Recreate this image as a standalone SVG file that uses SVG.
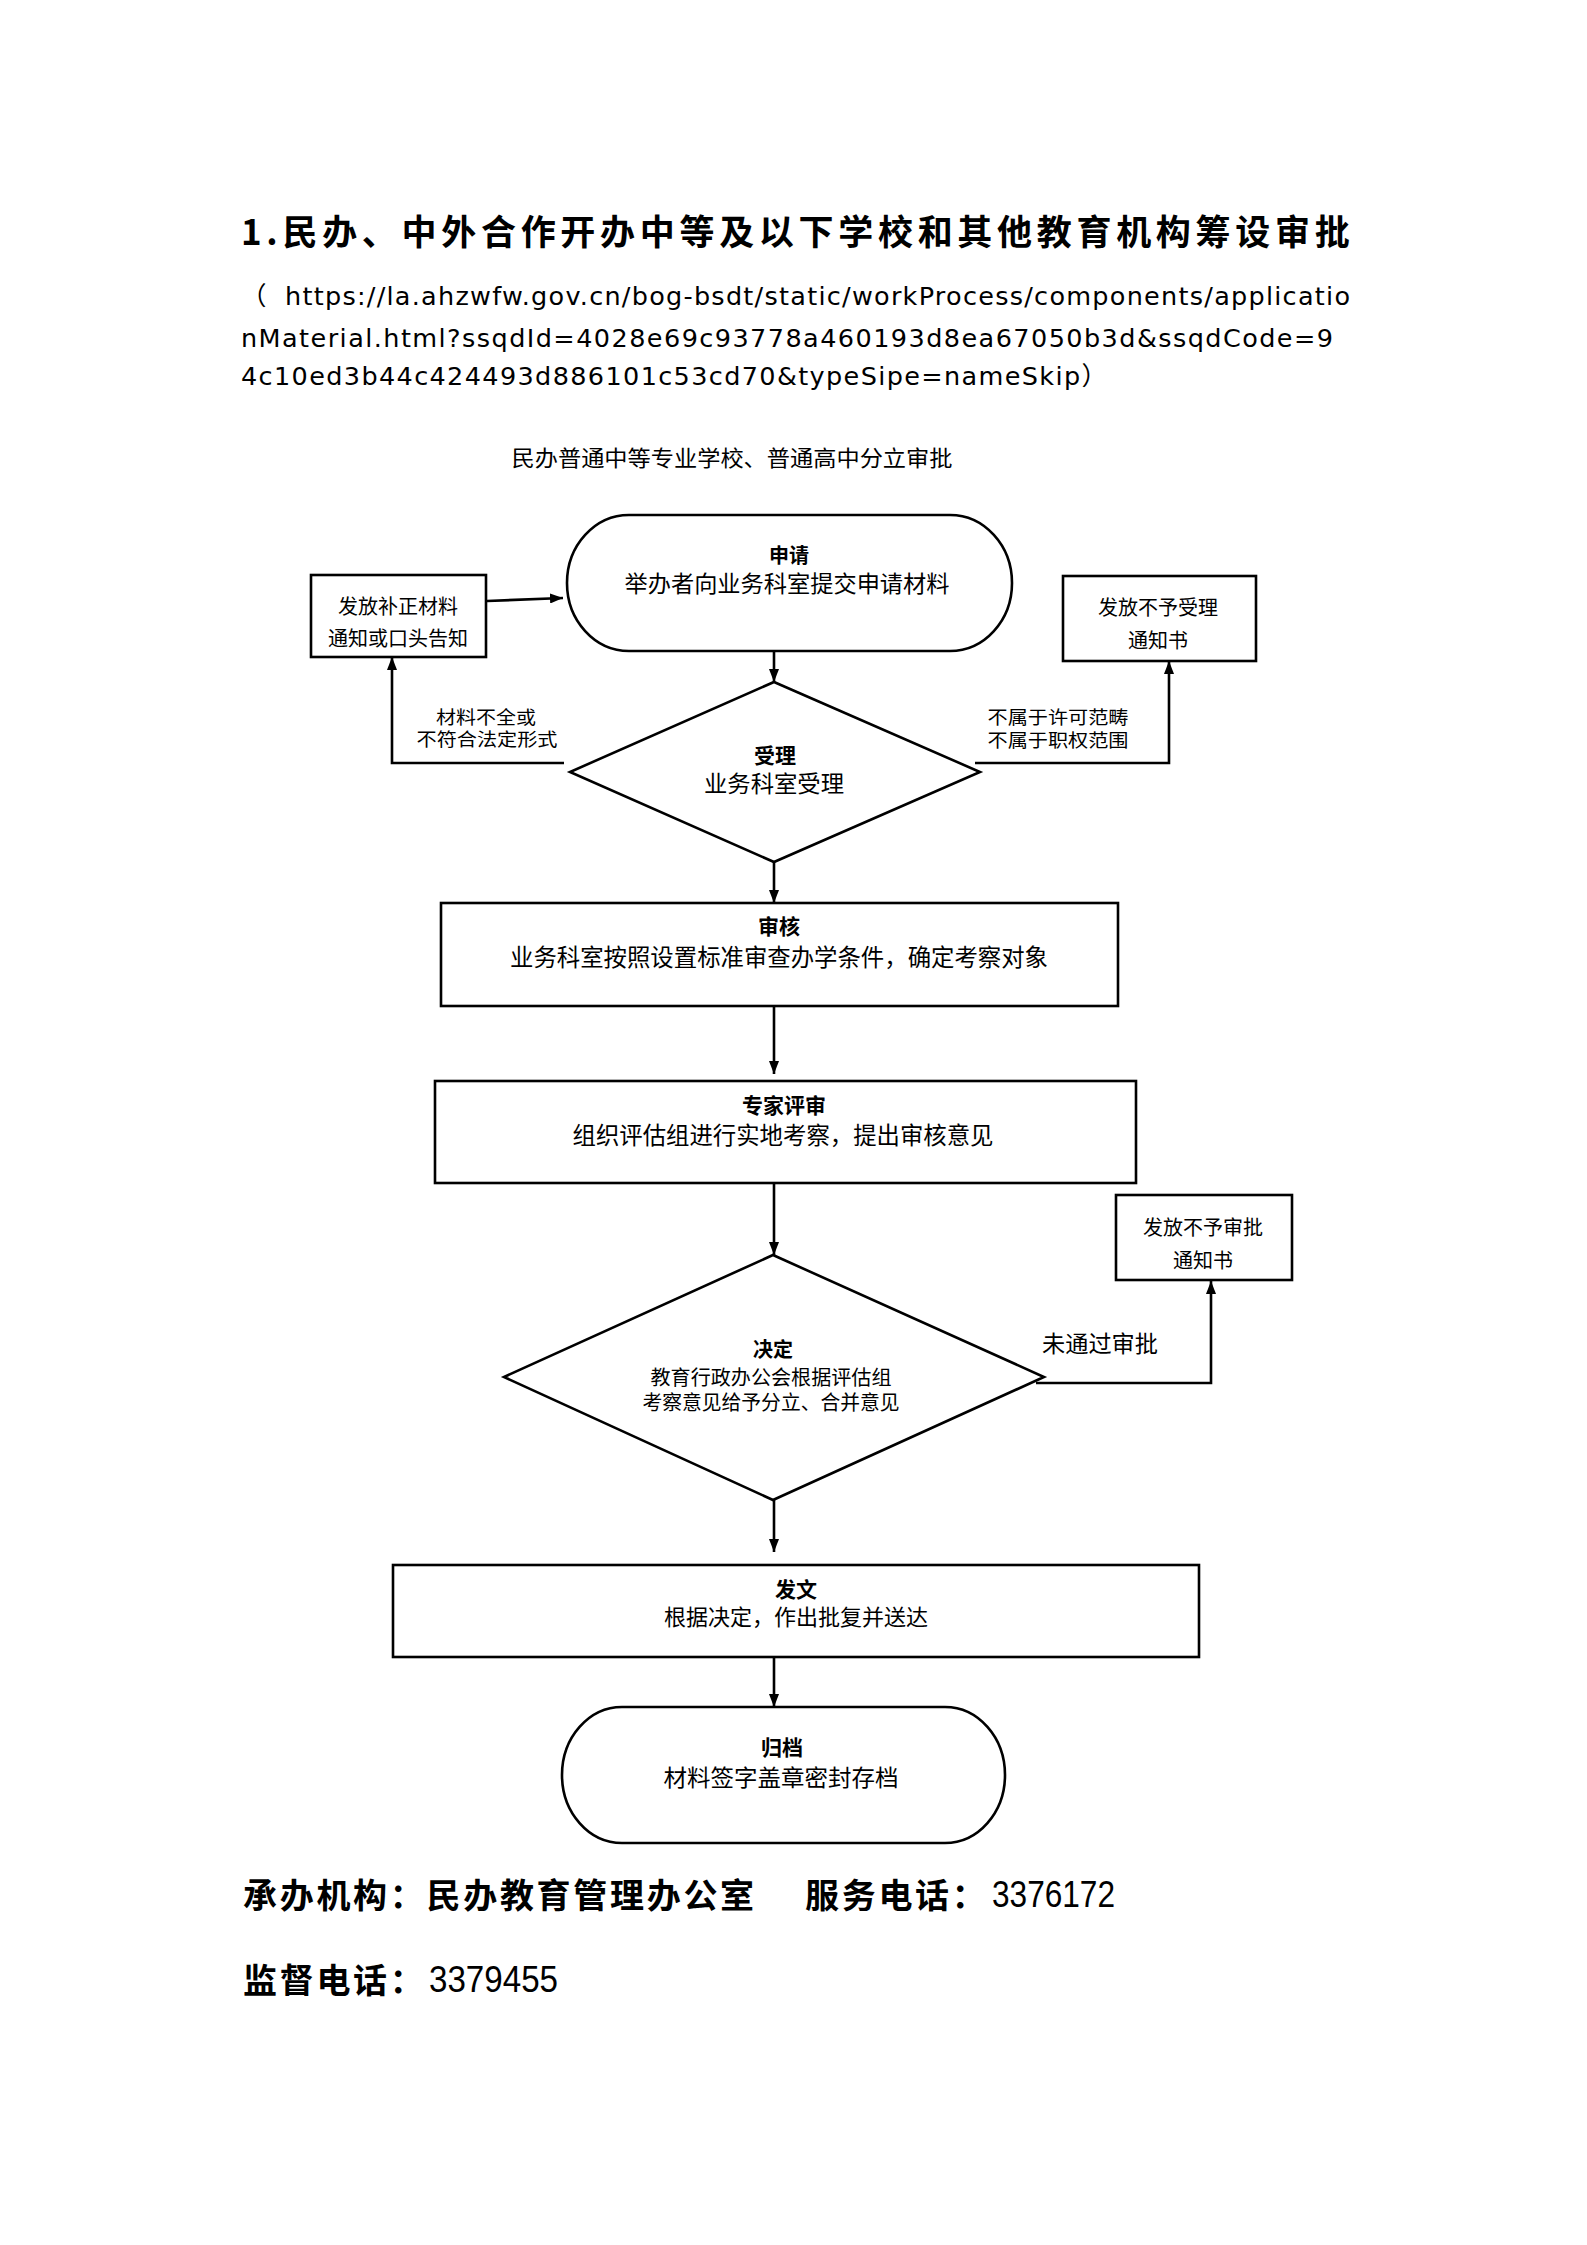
<svg xmlns="http://www.w3.org/2000/svg" width="1587" height="2245" viewBox="0 0 1587 2245">
<style>
.bg{fill:#ffffff}
.shape{fill:#ffffff;stroke:#000;stroke-width:2.6}
.conn{fill:none;stroke:#000;stroke-width:2.6}
.t{font-family:"Noto Sans CJK SC","Noto Sans",sans-serif;fill:#000;text-anchor:middle}
.b{font-weight:bold}
.title{font-family:"Noto Sans CJK SC",sans-serif;font-weight:bold;font-size:35px;letter-spacing:4.7px;fill:#000}
.url{font-family:"DejaVu Sans","Noto Sans CJK SC",sans-serif;font-size:25.5px;fill:#000}
.foot{font-family:"Noto Sans CJK SC",sans-serif;font-weight:bold;font-size:34px;letter-spacing:2.7px;fill:#000}
.num{font-family:"Liberation Sans",sans-serif;font-size:37.5px;fill:#000}
</style>
<defs>
<marker id="ah" viewBox="0 0 13 10" refX="13" refY="5" markerWidth="13" markerHeight="10" markerUnits="userSpaceOnUse" orient="auto">
<path d="M0,0 L13,5 L0,10 z" fill="#000"/>
</marker>
</defs>
<rect class="bg" x="0" y="0" width="1587" height="2245"/>

<g id="header">
<text class="title" x="241" y="245">1.民办、中外合作开办中等及以下学校和其他教育机构筹设审批</text>
<text class="url" x="241" y="305">（</text>
<text class="url" x="285" y="305" textLength="1065" lengthAdjust="spacing">https://la.ahzwfw.gov.cn/bog-bsdt/static/workProcess/components/applicatio</text>
<text class="url" x="241" y="347" textLength="1092" lengthAdjust="spacing">nMaterial.html?ssqdId=4028e69c93778a460193d8ea67050b3d&amp;ssqdCode=9</text>
<text class="url" x="241" y="385" textLength="866" lengthAdjust="spacing">4c10ed3b44c424493d886101c53cd70&amp;typeSipe=nameSkip）</text>
<text class="t" x="732" y="466" font-size="22" textLength="441" lengthAdjust="spacingAndGlyphs">民办普通中等专业学校、普通高中分立审批</text>
</g>

<g id="connectors">
<polyline class="conn" points="487,601 563,598" marker-end="url(#ah)"/>
<polyline class="conn" points="774,651 774,682" marker-end="url(#ah)"/>
<polyline class="conn" points="564,763 392,763 392,657" marker-end="url(#ah)"/>
<polyline class="conn" points="975,763 1169,763 1169,661" marker-end="url(#ah)"/>
<polyline class="conn" points="774,862 774,903" marker-end="url(#ah)"/>
<polyline class="conn" points="774,1006 774,1074" marker-end="url(#ah)"/>
<polyline class="conn" points="774,1183 774,1255" marker-end="url(#ah)"/>
<polyline class="conn" points="1036,1383 1211,1383 1211,1281" marker-end="url(#ah)"/>
<polyline class="conn" points="774,1500 774,1552" marker-end="url(#ah)"/>
<polyline class="conn" points="774,1657 774,1707" marker-end="url(#ah)"/>
<text class="t" x="486" y="724" font-size="18.5" textLength="100" lengthAdjust="spacingAndGlyphs">材料不全或</text>
<text class="t" x="487" y="746" font-size="18.5" textLength="141" lengthAdjust="spacingAndGlyphs">不符合法定形式</text>
<text class="t" x="1058" y="724" font-size="18.5" textLength="141" lengthAdjust="spacingAndGlyphs">不属于许可范畴</text>
<text class="t" x="1058" y="747" font-size="18.5" textLength="141" lengthAdjust="spacingAndGlyphs">不属于职权范围</text>
<text class="t" x="1100" y="1352" font-size="23" textLength="116" lengthAdjust="spacingAndGlyphs">未通过审批</text>
</g>

<g id="node-apply">
<rect class="shape" x="567" y="515" width="445" height="136" rx="62" ry="68"/>
<text class="t b" x="789" y="563" font-size="20">申请</text>
<text class="t" x="787" y="592" font-size="23" textLength="325" lengthAdjust="spacingAndGlyphs">举办者向业务科室提交申请材料</text>
</g>

<g id="node-supplement">
<rect class="shape" x="311" y="575" width="175" height="82"/>
<text class="t" x="398" y="614" font-size="20">发放补正材料</text>
<text class="t" x="398" y="646" font-size="20">通知或口头告知</text>
</g>

<g id="node-reject-accept">
<rect class="shape" x="1063" y="576" width="193" height="85"/>
<text class="t" x="1158" y="615" font-size="20">发放不予受理</text>
<text class="t" x="1158" y="648" font-size="20">通知书</text>
</g>

<g id="node-accept">
<polygon class="shape" points="774,682 980,772 774,862 570,772"/>
<text class="t b" x="775" y="763" font-size="21">受理</text>
<text class="t" x="774" y="792" font-size="23" textLength="140" lengthAdjust="spacingAndGlyphs">业务科室受理</text>
</g>

<g id="node-review">
<rect class="shape" x="441" y="903" width="677" height="103"/>
<text class="t b" x="779" y="934" font-size="21">审核</text>
<text class="t" x="779" y="966" font-size="23.4" textLength="538" lengthAdjust="spacingAndGlyphs">业务科室按照设置标准审查办学条件，确定考察对象</text>
</g>

<g id="node-expert">
<rect class="shape" x="435" y="1081" width="701" height="102"/>
<text class="t b" x="784" y="1113" font-size="21">专家评审</text>
<text class="t" x="783" y="1144" font-size="23.4" textLength="421" lengthAdjust="spacingAndGlyphs">组织评估组进行实地考察，提出审核意见</text>
</g>

<g id="node-decide">
<polygon class="shape" points="773,1255 1044,1377 773,1500 504,1377"/>
<text class="t b" x="773" y="1357" font-size="20">决定</text>
<text class="t" x="771" y="1385" font-size="20" textLength="241" lengthAdjust="spacingAndGlyphs">教育行政办公会根据评估组</text>
<text class="t" x="771" y="1410" font-size="20" textLength="257" lengthAdjust="spacingAndGlyphs">考察意见给予分立、合并意见</text>
</g>

<g id="node-reject-approve">
<rect class="shape" x="1116" y="1195" width="176" height="85"/>
<text class="t" x="1203" y="1235" font-size="20">发放不予审批</text>
<text class="t" x="1203" y="1268" font-size="20">通知书</text>
</g>

<g id="node-issue">
<rect class="shape" x="393" y="1565" width="806" height="92"/>
<text class="t b" x="796" y="1597" font-size="21">发文</text>
<text class="t" x="796" y="1625" font-size="22" textLength="264" lengthAdjust="spacingAndGlyphs">根据决定，作出批复并送达</text>
</g>

<g id="node-archive">
<rect class="shape" x="562" y="1707" width="443" height="136" rx="60" ry="68"/>
<text class="t b" x="782" y="1755" font-size="21">归档</text>
<text class="t" x="781" y="1786" font-size="23" textLength="235" lengthAdjust="spacingAndGlyphs">材料签字盖章密封存档</text>
</g>

<g id="footer">
<text class="foot" x="243" y="1908">承办机构：民办教育管理办公室</text>
<text class="foot" x="805" y="1908">服务电话：</text>
<text class="num" x="992" y="1907" textLength="123" lengthAdjust="spacingAndGlyphs">3376172</text>
<text class="foot" x="243" y="1993">监督电话：</text>
<text class="num" x="429" y="1992" textLength="129" lengthAdjust="spacingAndGlyphs">3379455</text>
</g>
</svg>
